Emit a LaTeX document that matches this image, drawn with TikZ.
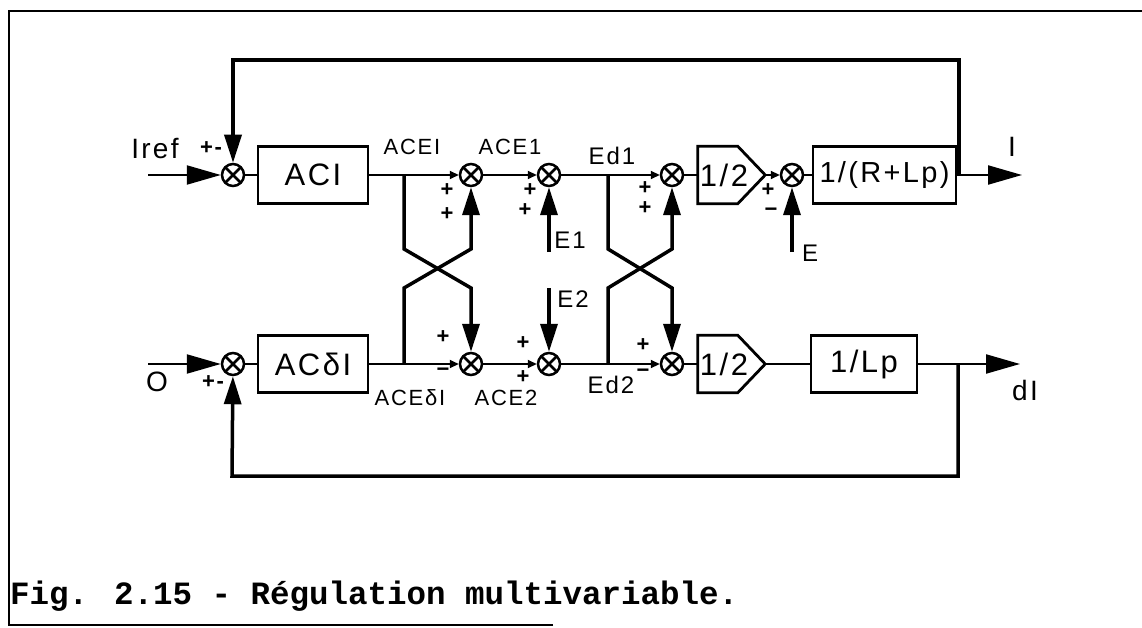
\documentclass[tikz,border=0pt]{standalone}
\usepackage{fontspec}
\setmainfont[LetterSpace=8]{Liberation Sans}
\newfontfamily\capfont{Liberation Mono}
\usetikzlibrary{arrows.meta}
\begin{document}
\begin{tikzpicture}[x=1pt,y=-1pt,
  sig/.style={line width=2.2pt},
  fb/.style={line width=3.5pt},
  frame/.style={line width=2.8pt},
  blk/.style={draw,line width=2.8pt,minimum width=110pt,minimum height=57pt,inner sep=0pt,font=\fontsize{31}{34}\selectfont},
  pent/.style={minimum width=67pt,minimum height=57pt,inner sep=0pt},
  sum/.style={circle,draw,line width=2.5pt,minimum size=22pt,inner sep=0pt,
    path picture={\draw[line width=2.5pt]
      ([shift={(-8pt,-8pt)}]path picture bounding box.center) -- ([shift={(8pt,8pt)}]path picture bounding box.center)
      ([shift={(-8pt,8pt)}]path picture bounding box.center) -- ([shift={(8pt,-8pt)}]path picture bounding box.center);}},
  big/.style={-{Triangle[length=28pt,width=17pt]}},
  bigin/.style={-{Triangle[length=34pt,width=19pt]}},
  small/.style={-{Triangle[length=9pt,width=8pt]}},
  lbl/.style={font=\fontsize{22}{24}\selectfont,inner sep=0pt},
  io/.style={font=\fontsize{28}{30}\selectfont,inner sep=0pt},
  sgn/.style={font=\fontsize{22}{22}\selectfont\bfseries,inner sep=0pt},
]
\useasboundingbox (0,0) rectangle (1142,628);
% frame
\coordinate (fa) at (553,625);
\coordinate (fb) at (9,625);
\coordinate (fc) at (9,11);
\coordinate (fd) at (1142,11);
\draw[frame] (fa) -- (fb) -- (fc) -- (fd);
\node[anchor=base west,inner sep=0pt,font=\capfont\bfseries\fontsize{32.5}{36}\selectfont] (cap) at (10,604) {Fig. 2.15 - Régulation multivariable.};

% top row
\node[sum] (s1) at (233,175) {};
\node[blk] (aci) at (313,175) {ACI};
\node[sum] (s2) at (471,175) {};
\node[sum] (s3) at (549,175) {};
\node[sum] (s4) at (672,175) {};
\node[pent] (p1) at (731.5,175) {};
\node[font=\fontsize{31}{34}\selectfont,inner sep=0pt] (p1t) at (724,175) {1/2};
\node[sum] (s8) at (792,175) {};
\node[blk,minimum width=143pt,font=\fontsize{29}{32}\selectfont] (rl) at (884.5,175) {1/(R+Lp)};
% bottom row
\node[sum] (s0) at (233,364) {};
\node[blk] (acd) at (313,364) {ACδI};
\node[sum] (s5) at (471,364) {};
\node[sum] (s6) at (549,364) {};
\node[sum] (s7) at (672,364) {};
\node[pent] (p2) at (731.5,364) {};
\node[font=\fontsize{31}{34}\selectfont,inner sep=0pt] (p2t) at (724,364) {1/2};
\node[blk,minimum width=106pt] (lp) at (864,364) {1/Lp};

% pentagon outlines
\draw[line width=2.8pt] (p1.north west) -- ([xshift=40pt]p1.north west) -- (p1.east) -- ([xshift=40pt]p1.south west) -- (p1.south west) -- cycle;
\draw[line width=2.8pt] (p2.north west) -- ([xshift=40pt]p2.north west) -- (p2.east) -- ([xshift=40pt]p2.south west) -- (p2.south west) -- cycle;

% coordinates
\coordinate (iref) at (148,175);
\coordinate (oin) at (148,364);
\coordinate (b1) at (404,175);
\coordinate (b1b) at (404,364);
\coordinate (b2) at (608,175);
\coordinate (b2b) at (608,364);
\coordinate (o1) at (959,175);
\coordinate (o2) at (958,364);
\coordinate (iout) at (1022,175);
\coordinate (dout) at (1020,364);
\coordinate (ft) at (233,60);
\coordinate (fbt) at (232,476);
\coordinate (c1) at (404,249);
\coordinate (c2) at (471,288);
\coordinate (c3) at (404,288);
\coordinate (c4) at (471,249);
\coordinate (d1) at (608,249);
\coordinate (d2) at (672,288);
\coordinate (d3) at (608,288);
\coordinate (d4) at (672,249);
\coordinate (e1) at (549,252);
\coordinate (e2) at (549,288);
\coordinate (e) at (792,252);

% top signal line
\draw[sig,bigin] (iref) -- (s1);
\draw[sig] (s1) -- (aci);
\draw[sig] (aci) -- (b1);
\draw[sig,small] (b1) -- (s2);
\draw[sig,small] (s2) -- (s3);
\draw[sig] (s3) -- (b2);
\draw[sig,small] (b2) -- (s4);
\draw[sig] (s4) -- (p1);
\draw[sig,small] (p1) -- (s8);
\draw[sig] (s8) -- (rl);
\draw[sig] (rl) -- (o1);
\draw[sig,bigin] (o1) -- (iout);
\draw[fb,big] (o1) |- (ft) -- (s1);

% bottom signal line
\draw[sig,bigin] (oin) -- (s0);
\draw[sig] (s0) -- (acd);
\draw[sig] (acd) -- (b1b);
\draw[sig,small] (b1b) -- (s5);
\draw[sig,small] (s5) -- (s6);
\draw[sig] (s6) -- (b2b);
\draw[sig,small] (b2b) -- (s7);
\draw[sig] (s7) -- (p2);
\draw[sig] (p2) -- (lp);
\draw[sig] (lp) -- (o2);
\draw[sig,bigin] (o2) -- (dout);
\draw[fb,big] (o2) |- (fbt) -- (s0);

% crossings
\draw[fb,big,line join=miter] (b1) -- (c1) -- (c2) -- (s5);
\draw[fb,big,line join=miter] (b1b) -- (c3) -- (c4) -- (s2);
\draw[fb,big,line join=miter] (b2) -- (d1) -- (d2) -- (s7);
\draw[fb,big,line join=miter] (b2b) -- (d3) -- (d4) -- (s4);

% disturbances
\draw[fb,big] (e1) -- (s3);
\draw[fb,big] (e2) -- (s6);
\draw[fb,big] (e) -- (s8);

% labels
\node[io] (liref) at (155,149) {Iref};
\node[sgn] (l1) at (211,148) {+-};
\node[lbl] (lacei) at (412,147) {ACEI};
\node[lbl] (lace1) at (510,147) {ACE1};
\node[lbl,font=\fontsize{24}{26}\selectfont] (led1) at (612,156) {Ed1};
\node[io] (li) at (1012,147) {I};
\node[sgn] (p11) at (447,190) {+};
\node[sgn] (p12) at (447,214) {+};
\node[sgn] (p13) at (530,190) {+};
\node[sgn] (p14) at (525,210) {+};
\node[sgn] (p15) at (645,188) {+};
\node[sgn] (p16) at (645,208) {+};
\node[sgn] (p17) at (768,190) {+};
\node[sgn] (p18) at (771,212) {−};
\node[lbl,font=\fontsize{24}{26}\selectfont] (le1) at (570,240) {E1};
\node[lbl,font=\fontsize{24}{26}\selectfont] (le2) at (573,299) {E2};
\node[lbl,font=\fontsize{24}{26}\selectfont] (le) at (810,253) {E};
\node[sgn] (p21) at (443,337) {+};
\node[sgn] (p22) at (443,372) {−};
\node[sgn] (p23) at (523,343) {+};
\node[sgn] (p24) at (523,377) {+};
\node[sgn] (p25) at (643,345) {+};
\node[sgn] (p26) at (643,373) {−};
\node[lbl] (laced) at (410,398) {ACEδI};
\node[lbl] (lace2) at (506,398) {ACE2};
\node[lbl,font=\fontsize{24}{26}\selectfont] (led2) at (611,385) {Ed2};
\node[io] (lo) at (157,382) {O};
\node[sgn] (l2) at (213,382) {+-};
\node[io] (ldi) at (1025,390) {dI};
\end{tikzpicture}
\end{document}
